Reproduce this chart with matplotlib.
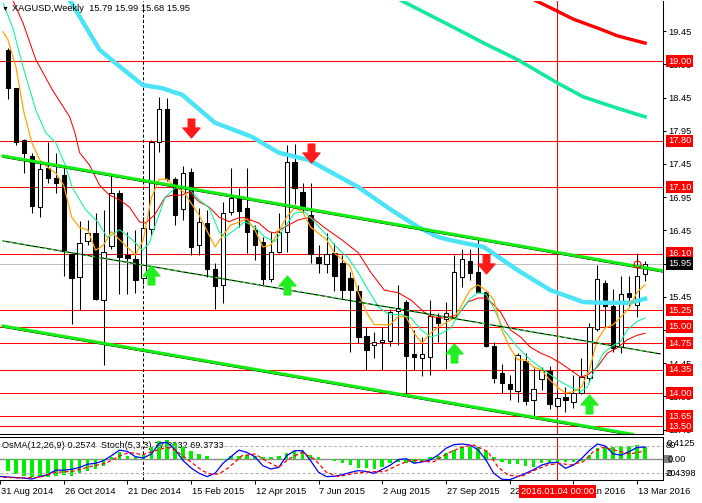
import numpy as np
import matplotlib
matplotlib.use("Agg")
import matplotlib.pyplot as plt
from matplotlib.path import Path
from matplotlib.patches import Rectangle
from matplotlib.transforms import blended_transform_factory

plt.rcParams['font.family'] = ['Liberation Sans', 'DejaVu Sans']
plt.rcParams['font.size'] = 6.7

W, H = 702, 503

# weekly XAGUSD candles, bar 0 = week of 7 Sep 2014, bar 80 = 20 Mar 2016
opens = [19.17, 18.59, 17.81, 17.57, 16.80, 17.39, 17.24, 17.28, 16.09, 15.75,
         16.29, 16.41, 15.40, 16.21, 17.01, 16.08, 16.02, 15.73, 16.47, 17.78,
         18.28, 17.22, 16.77, 17.33, 16.23, 16.56, 15.87, 15.63, 16.73, 16.94,
         16.79, 16.46, 16.27, 15.72, 16.12, 16.42, 17.48, 17.03, 16.68, 16.05,
         15.94, 16.11, 15.96, 15.73, 15.54, 14.86, 14.72, 14.77, 14.78, 15.24,
         15.37, 14.59, 14.53, 14.54, 15.15, 15.12, 15.15, 15.75, 15.99, 15.82,
         15.52, 14.71, 14.30, 14.14, 14.03, 14.48, 13.90, 14.21, 14.33, 13.81,
         13.94, 13.87, 14.00, 14.23, 14.96, 15.66, 15.31, 14.69, 15.51, 15.33,
         15.79]
highs = [19.20, 18.60, 17.83, 17.61, 17.48, 17.78, 17.61, 17.39, 16.12, 16.59,
         16.61, 16.71, 16.76, 17.27, 17.06, 16.42, 16.46, 16.65, 17.81, 18.46,
         18.44, 17.25, 17.42, 17.39, 16.79, 16.76, 15.96, 16.88, 17.39, 17.09,
         17.39, 16.53, 16.35, 16.42, 16.71, 17.74, 17.75, 17.16, 17.16, 16.23,
         16.41, 16.26, 16.08, 15.82, 15.63, 14.99, 14.92, 14.99, 15.27, 15.63,
         15.40, 14.95, 14.84, 15.40, 15.21, 15.37, 16.08, 16.17, 16.17, 16.31,
         15.54, 14.77, 14.44, 14.27, 14.60, 14.60, 14.38, 14.39, 14.40, 14.05,
         14.09, 14.27, 14.53, 15.05, 15.93, 15.70, 15.57, 15.76, 15.76, 16.11,
         15.99]
lows = [18.43, 17.73, 17.31, 16.71, 16.65, 17.16, 17.01, 15.76, 15.04, 15.25,
        16.23, 15.40, 14.42, 16.17, 15.49, 15.49, 15.51, 15.64, 16.38, 17.63,
        17.19, 16.53, 16.61, 16.08, 16.08, 15.75, 15.27, 15.36, 16.68, 16.50,
        16.11, 16.00, 15.61, 15.67, 16.11, 16.12, 16.85, 16.71, 15.96, 15.81,
        15.81, 15.54, 15.43, 14.62, 14.75, 14.35, 14.53, 14.35, 14.71, 14.72,
        13.97, 14.35, 14.26, 14.27, 14.77, 14.36, 15.13, 15.60, 15.70, 15.51,
        14.69, 14.15, 14.00, 13.90, 13.87, 13.82, 13.65, 14.05, 13.76, 13.79,
        13.71, 13.77, 13.99, 14.17, 14.93, 14.98, 14.62, 14.60, 15.30, 15.15,
        15.68]
closes = [18.59, 17.78, 17.61, 16.82, 17.37, 17.24, 17.16, 16.14, 15.73, 16.26,
          16.41, 15.42, 16.12, 17.01, 16.05, 16.03, 15.70, 16.49, 17.78, 18.28,
          17.22, 16.68, 17.31, 16.20, 16.58, 15.87, 15.61, 16.71, 16.94, 16.74,
          16.42, 16.23, 15.72, 16.12, 16.42, 17.48, 17.09, 16.80, 16.09, 15.96,
          16.09, 15.76, 15.55, 15.55, 14.84, 14.65, 14.77, 14.80, 15.22, 15.28,
          14.56, 14.54, 14.59, 15.16, 15.05, 15.21, 15.82, 16.02, 15.81, 15.52,
          14.71, 14.23, 14.15, 14.06, 14.57, 13.88, 14.06, 14.35, 13.84, 13.93,
          13.90, 14.00, 14.24, 14.99, 15.72, 15.31, 14.68, 15.49, 15.45, 15.76,
          15.95]

# moving averages (bar position, price)
orange_x = [-0.6, 0, 1, 2, 3, 4, 5, 6, 7, 8, 9, 10, 11, 12, 13, 14, 16, 17, 18, 19,
            20, 21, 22, 23, 24, 26, 27, 28, 30, 31, 32, 33, 35, 36, 37, 38, 40, 41, 43, 44,
            45, 46, 48, 49, 50, 51, 52, 53, 54, 56, 57, 58, 59, 60, 61, 62, 63, 64, 65, 66,
            67, 68, 69, 70, 71, 72, 73, 74, 75, 76, 77, 78, 79, 80]
orange_y = [19.44, 19.32, 18.91, 18.23, 17.77, 17.51, 17.40, 17.31, 17.13, 16.65,
            16.49, 16.46, 16.15, 16.23, 16.43, 16.31, 16.08, 16.31, 16.94, 17.22,
            17.22, 17.10, 17.04, 16.86, 16.68, 16.20, 16.38, 16.53, 16.62, 16.46,
            16.20, 16.23, 16.65, 16.79, 16.73, 16.50, 16.31, 16.11, 15.90, 15.51,
            15.22, 15.03, 15.03, 15.15, 15.15, 14.90, 14.75, 14.90, 14.99, 15.13,
            15.33, 15.55, 15.63, 15.55, 15.40, 14.95, 14.69, 14.50, 14.50, 14.39,
            14.35, 14.20, 14.09, 14.00, 14.02, 14.09, 14.35, 14.80, 14.98, 15.03,
            15.15, 15.28, 15.52, 15.63]
green_x = [-0.6, 0.6, 1.9, 3.5, 4.75, 6, 7.1, 8.1, 9.75, 11.25,
           12.5, 14, 15.6, 16.9, 17.75, 18.5, 19.75, 21, 22.75, 24,
           25.25, 26.5, 27.25, 28.5, 29.75, 31, 32.25, 33.5, 34.75, 36,
           37.25, 38.5, 39.75, 41, 42.75, 44, 45.25, 46.5, 47.75, 49.4,
           50.6, 51.9, 53.1, 54.4, 55.6, 56.9, 58.1, 59, 60, 61,
           62.25, 64, 65.6, 67.25, 69, 70.6, 71.9, 72.75, 73.5, 74.75,
           76, 76.9, 77.75, 79, 80]
green_y = [19.87, 19.50, 18.91, 18.26, 17.92, 17.77, 17.46, 17.09, 16.76, 16.58,
           16.34, 16.46, 16.31, 16.15, 16.26, 16.53, 16.95, 17.09, 17.07, 16.91,
           16.79, 16.43, 16.35, 16.46, 16.58, 16.50, 16.35, 16.28, 16.50, 16.71,
           16.73, 16.58, 16.41, 16.23, 16.03, 15.81, 15.55, 15.30, 15.19, 15.18,
           15.13, 14.95, 14.84, 14.90, 14.98, 15.25, 15.43, 15.51, 15.49, 15.28,
           14.95, 14.69, 14.50, 14.35, 14.20, 14.09, 14.02, 14.09, 14.30, 14.60,
           14.72, 14.77, 14.95, 15.08, 15.13]
red_x = [-0.6, 0.6, 1.9, 3.5, 5.6, 7.75, 8.4, 9, 10.25, 11.5,
         12.75, 14, 15.25, 16.5, 17.25, 18.4, 19.75, 20.6, 21.9, 22.75,
         24, 25.25, 26.5, 27.75, 29, 29.75, 31.5, 32.75, 33.5, 34.75,
         36.5, 38.1, 39.75, 41.9, 44, 45.6, 47.25, 49, 50.6, 52.25,
         53.1, 54.75, 56.5, 57.75, 59, 60, 61, 61.9, 63.1, 64.4,
         65.6, 66.9, 68.1, 69.4, 70.6, 71.9, 72.75, 74, 75.25, 76.5,
         77.75, 79, 80]
red_y = [20.27, 19.92, 19.57, 19.02, 18.56, 18.16, 17.92, 17.62, 17.43, 17.13,
         16.98, 16.91, 16.80, 16.58, 16.56, 16.68, 16.95, 16.98, 16.98, 17.03,
         16.88, 16.80, 16.65, 16.58, 16.64, 16.64, 16.56, 16.43, 16.41, 16.50,
         16.61, 16.65, 16.49, 16.31, 16.11, 15.81, 15.55, 15.51, 15.40, 15.22,
         15.15, 15.13, 15.18, 15.37, 15.43, 15.43, 15.33, 15.21, 14.95, 14.84,
         14.69, 14.60, 14.54, 14.45, 14.35, 14.24, 14.27, 14.39, 14.60, 14.68,
         14.80, 14.87, 14.90]
cyan_x = [6.25, 7.75, 11.5, 13.5, 16.9, 19.4, 21.9, 26, 30.6, 34, 37.75, 44,
          48.1, 51.5, 54, 55.6, 59.75, 64, 68.1, 72.25, 74.4, 78.1, 80]
cyan_y = [20.22, 19.92, 19.17, 18.97, 18.64, 18.59, 18.49, 18.07, 17.86, 17.62, 17.51, 17.10,
          16.76, 16.50, 16.35, 16.30, 16.20, 15.85, 15.55, 15.37, 15.36, 15.36, 15.42]
slow_green_x = [48.1, 55.6, 59.75, 64, 69, 72.25, 76.5, 80]
slow_green_y = [19.99, 19.53, 19.27, 19.02, 18.67, 18.46, 18.29, 18.16]
slow_red_x = [64.4, 69, 71, 74.4, 76.5, 80]
slow_red_y = [20.02, 19.75, 19.63, 19.48, 19.38, 19.27]

# trend lines (two anchors each)
upper_x, upper_y = [-0.625, 82.25], [17.57, 15.84]
middle_x, middle_y = [-0.625, 81.9], [16.29, 14.59]
lower_x, lower_y = [-0.625, 78.4], [15.01, 13.38]

levels = [19.00, 17.80, 17.10, 16.10, 15.25, 15.00, 14.75, 14.35, 14.00, 13.65, 13.50]
bid = 15.95
price_ticks = [13.45, 13.95, 14.45, 14.95, 15.45, 15.95, 16.45, 16.95, 17.45, 17.95, 18.45, 18.95, 19.45]

down_bars, down_prices = [23, 38, 60], [17.99, 17.62, 15.95]
up_bars, up_prices = [18, 35, 56, 73], [15.78, 15.62, 14.61, 13.83]
circle_bar, circle_price = 79, 15.95
cursor_bar, marked_bar = 17, 69

date_pos = [-1, 7, 15, 23, 31, 39, 47, 55, 63, 71, 79]
date_labels = ['31 Aug 2014', '26 Oct 2014', '21 Dec 2014', '15 Feb 2015', '12 Apr 2015',
               '7 Jun 2015', '2 Aug 2015', '27 Sep 2015', '22 Nov 2015', '17 Jan 2016', '13 Mar 2016']

# OsMA(12,26,9) histogram per bar
osma = [-0.244, -0.298, -0.332, -0.352, -0.366, -0.366, -0.332, -0.311, -0.34, -0.284,
        -0.230, -0.196, -0.129, 0.054, 0.142, 0.068, 0.054, 0.081, 0.244, 0.366,
        0.393, 0.325, 0.257, 0.162, 0.108, 0.068, 0.007, -0.01, 0.068, 0.074,
        0.095, 0.074, 0.041, 0.041, 0.074, 0.122, 0.176, 0.162, 0.095, 0.054,
        0.014, -0.041, -0.068, -0.12, -0.18, -0.183, -0.203, -0.149, -0.081, -0.047,
        -0.068, -0.068, -0.047, 0.041, 0.068, 0.135, 0.190, 0.244, 0.257, 0.244,
        0.176, 0.054, -0.047, -0.095, -0.095, -0.135, -0.149, -0.081, -0.081, -0.068,
        -0.047, -0.047, -0.027, 0.088, 0.223, 0.257, 0.257, 0.271, 0.271, 0.291,
        0.257]
# Stoch(5,3,3) main line, bars -1..80
stoch_main = [13, 12, 10.5, 9.5, 7.5, 12.7, 17, 27, 27, 28.8,
              33, 40, 42, 47.8, 58.8, 71, 68, 56.6, 53.6, 62.4,
              85.9, 88, 71.2, 47.8, 31.7, 20, 12.7, 20, 42, 56.6,
              71, 66, 56.6, 36.8, 29.5, 33, 58.8, 69.8, 69.8, 47.8,
              22.2, 12.7, 13.5, 17, 22, 26, 24, 20, 28.8, 38,
              50, 52, 42, 45, 49.3, 60, 75, 83, 84.4, 82.2,
              72, 50, 20, 7, 6, 12.7, 20, 28, 38, 43,
              44, 31, 38, 52, 70, 84.4, 80, 62.4, 60, 67.6,
              77, 77.8]
sig_x = [-0.6, 1.9, 4, 6, 8.1, 10.25, 12.25, 14.1, 15.25, 16.9,
         18.5, 20, 21, 22.75, 24.4, 25.4, 26.5, 27.75, 29.4, 31,
         32.75, 34, 35.25, 36.9, 38.5, 40, 41.5, 43.5, 45.6, 47.25,
         49, 50.6, 52.25, 53.5, 55.25, 56.9, 58.5, 60.25, 61.5, 62.75,
         64.4, 66, 67.75, 69.4, 70.6, 72.25, 73.5, 74.75, 76.5, 78.1, 80]
sig_y = [11.2, 9.7, 11.2, 22.2, 24.4, 34.6, 42, 58.8, 66, 61,
         69.8, 77, 71, 47.8, 25.9, 18.5, 18.5, 33, 58.8, 62.4,
         44, 33, 51.3, 66, 51.3, 22.2, 12.7, 20, 23.6, 23.6,
         38.3, 49.3, 45.6, 45.6, 64, 77, 82.2, 67.6, 34.6, 16.3,
         12.7, 25.8, 38.3, 42, 38.3, 45.6, 67.6, 77, 69.8, 62.4, 69.3]


def rect(x0, y0, x1, y1):
    # pixel box, origin top-left -> figure fraction
    return [x0 / W, 1 - y1 / H, (x1 - x0) / W, (y1 - y0) / H]


fig = plt.figure(figsize=(W / 100, H / 100), dpi=100)
fig.patch.set_facecolor('white')
ax = fig.add_axes(rect(0, 1, 663, 434))
ax2 = fig.add_axes(rect(0, 437, 663, 480), sharex=ax)

ax.set_xlim(-0.625, 82.25)
ax.set_ylim(13.383, 19.904)

# horizontal levels, bid line, vertical markers
for lv in levels:
    ax.axhline(lv, color='#ff0000', lw=0.75, zorder=1)
ax.axhline(bid, color='#c0c0c0', lw=0.75, zorder=1)
for a in (ax, ax2):
    a.axvline(cursor_bar, color='black', lw=0.75, ls=(0, (3, 2)), zorder=1)
    a.axvline(marked_bar, color='#ff0000', lw=0.75, zorder=1)

# candles
idx = np.arange(len(opens))
o = np.array(opens)
c = np.array(closes)
ax.vlines(idx, lows, highs, color='black', lw=0.75, zorder=3)
ax.bar(idx, np.maximum(np.abs(c - o), 0.008), bottom=np.minimum(o, c), width=0.55,
       color=['white' if cc >= oo else 'black' for oo, cc in zip(o, c)],
       edgecolor='black', linewidth=0.75, zorder=4)

# moving averages
ax.plot(cyan_x, cyan_y, color='#4de3f7', lw=3.2, zorder=5)
ax.plot(slow_green_x, slow_green_y, color='#14e8a0', lw=2.6, zorder=5)
ax.plot(slow_red_x, slow_red_y, color='#ff0000', lw=2.4, zorder=5)
ax.plot(red_x, red_y, color='#ff0000', lw=0.75, zorder=6)
ax.plot(green_x, green_y, color='#00fa9a', lw=0.75, zorder=6)
ax.plot(orange_x, orange_y, color='#ffa500', lw=0.9, zorder=6)

# channel lines
for tx, ty in [(upper_x, upper_y), (lower_x, lower_y)]:
    ax.plot(tx, np.array(ty) - 0.02, color='black', lw=0.7, zorder=7)
    ax.plot(tx, ty, color='#11ee11', lw=2.2, zorder=7)
ax.plot(middle_x, middle_y, color='black', lw=0.8, zorder=7)
ax.plot(middle_x, middle_y, color='#11ee11', lw=1.0, ls=(0, (2, 3)), zorder=7)

# signal arrows
dn = Path([(-0.35, 1), (0.35, 1), (0.35, 0.05), (0.9, 0.05), (0, -1),
           (-0.9, 0.05), (-0.35, 0.05), (-0.35, 1)], closed=True)
upa = Path([(-0.35, -1), (0.35, -1), (0.35, -0.05), (0.9, -0.05), (0, 1),
            (-0.9, -0.05), (-0.35, -0.05), (-0.35, -1)], closed=True)
ax.plot(down_bars, down_prices, ls='none', marker=dn, ms=13.5,
        mfc='#ff1a1a', mec='#ff1a1a', zorder=8)
ax.plot(up_bars, up_prices, ls='none', marker=upa, ms=13.5,
        mfc='#22ee22', mec='#22ee22', zorder=8)
ax.plot([circle_bar], [circle_price], ls='none', marker='o', ms=5,
        mfc='none', mec='#ff0000', mew=0.8, zorder=8)

# price scale
ax.yaxis.tick_right()
ax.set_yticks(price_ticks)
ax.set_yticklabels([f'{t:.2f}' for t in price_ticks])
ax.tick_params(axis='y', direction='out', length=2.5, width=0.75, pad=1.5, labelsize=6.7)
ax.tick_params(axis='x', bottom=False, labelbottom=False)
for s in ('left', 'top'):
    ax.spines[s].set_visible(False)
for s in ('right', 'bottom'):
    ax.spines[s].set_linewidth(0.75)

ytr = ax.get_yaxis_transform()
for lv in levels:
    ax.text(1 + 5 / 663, lv, f'{lv:.2f}', transform=ytr, color='white', ha='left',
            va='center', clip_on=False, zorder=10,
            bbox=dict(boxstyle='square,pad=0.18', fc='#ff0000', ec='none'))
ax.text(1 + 5 / 663, bid, f'{bid:.2f}', transform=ytr, color='white', ha='left',
        va='center', clip_on=False, zorder=10,
        bbox=dict(boxstyle='square,pad=0.18', fc='black', ec='none'))

fig.text(2 / W, 1 - 9 / H, '\u25bc', fontsize=5, va='center', ha='left')
fig.text(12 / W, 1 - 8.5 / H, 'XAGUSD,Weekly  15.79 15.99 15.68 15.95', va='center', ha='left')

# indicator window
ax2.set_ylim(-0.420, 0.453)
ax2.bar(idx, osma, width=0.45, color='#00ee00', zorder=2)
ax2.axhline(0, color='#8c8c8c', lw=1.0, zorder=1)
ax2.text(2 / 663, 1 - 9 / 43, 'OsMA(12,26,9) 0.2574  Stoch(5,3,3) 77.8032 69.3733',
         transform=ax2.transAxes, va='center', ha='left', zorder=0.5)
ax2.set_yticks([])
ax2.set_xticks(date_pos)
ax2.tick_params(axis='x', direction='out', length=3, width=0.75, labelbottom=False)
ax2.spines['left'].set_visible(False)
for s in ('right', 'bottom', 'top'):
    ax2.spines[s].set_linewidth(0.75)

ax3 = ax2.twinx()
ax3.set_ylim(5.3, 99.8)
ax3.axhline(80, color='#b4b4b4', lw=0.75, ls=(0, (3, 2)))
ax3.axhline(20, color='#b4b4b4', lw=0.75, ls=(0, (3, 2)))
ax3.plot(np.arange(-1, len(stoch_main) - 1), stoch_main, color='#0000ff', lw=0.9)
ax3.plot(sig_x, sig_y, color='#ff0000', lw=0.9, ls=(0, (3, 2)))
ax3.set_yticks([])
for s in ax3.spines.values():
    s.set_visible(False)

fig.text(666 / W, 1 - 446 / H, '80', va='center', ha='left')
fig.text(667 / W, 1 - 443.5 / H, '0.4125', va='center', ha='left')
fig.patches.append(Rectangle((664 / W, 1 - 463 / H), 8 / W, 8 / H,
                             transform=fig.transFigure, fc='#808080', ec='none'))
fig.text(668 / W, 1 - 459.5 / H, '0.00', va='center', ha='left')
fig.text(665 / W, 1 - 474 / H, '-0.4398', va='center', ha='left')
fig.text(666 / W, 1 - 473 / H, '20', va='center', ha='left')

# date axis
dtr = blended_transform_factory(ax2.transData, fig.transFigure)
for p, lab in zip(date_pos, date_labels):
    ax2.text(p + 0.1, 1 - 492 / H, lab, transform=dtr, ha='left', va='center', clip_on=False)
ax2.text(marked_bar, 1 - 491.5 / H, '2016.01.04 00:00', transform=dtr, ha='center',
         va='center', color='white', clip_on=False, zorder=10,
         bbox=dict(boxstyle='square,pad=0.25', fc='#ff0000', ec='none'))

fig.savefig('out.png', dpi=100, facecolor='white')
